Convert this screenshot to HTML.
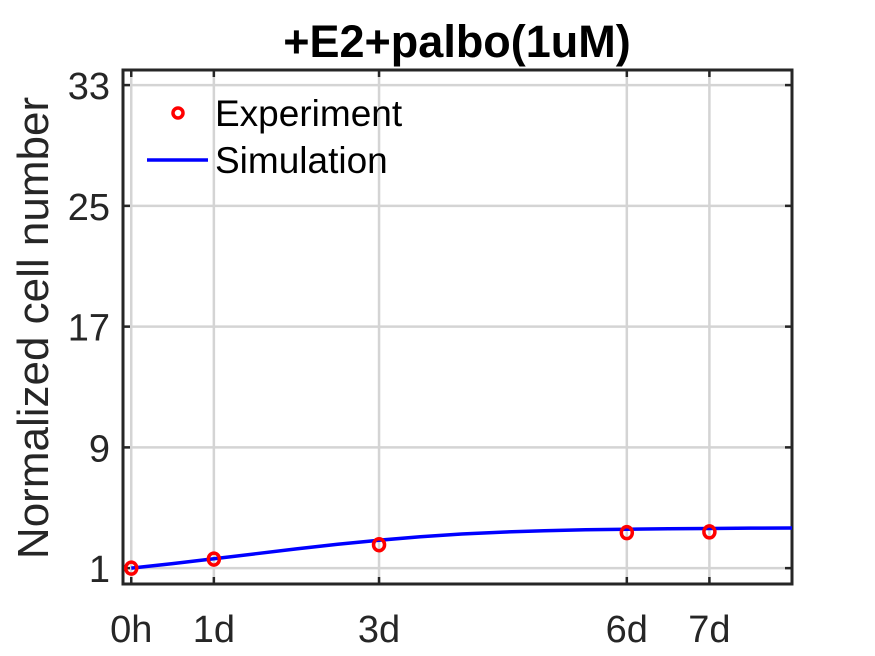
<!DOCTYPE html>
<html><head><meta charset="utf-8"><style>
body{margin:0;background:#fff;}
svg{display:block;font-family:"Liberation Sans",Arial,sans-serif;}
</style></head><body>
<svg id="c" width="875" height="656"></svg>
<script>
const xTickVals=[0,1,3,6,7];
const xTickLabels=["0h","1d","3d","6d","7d"];
const yTickVals=[1,9,17,25,33];
const expX=[0,1,3,6,7];
const expY=[1,1.6,2.55,3.35,3.4];
const simX=[0,0.5,1,1.5,2,2.5,3,3.5,4,4.5,5,5.5,6,6.5,7,7.5,8];
const simY=[1,1.3,1.62,1.95,2.28,2.58,2.85,3.08,3.26,3.39,3.48,3.54,3.58,3.61,3.63,3.65,3.66];
const L=123,R=792,T=70,B=584,x0=-0.1,x1=8,y0=-0.05,y1=34;
const sx=v=>L+(v-x0)/(x1-x0)*(R-L);
const sy=v=>B-(v-y0)/(y1-y0)*(B-T);
const svg=document.getElementById('c');
const NS='http://www.w3.org/2000/svg';
function mk(t,a,p){const e=document.createElementNS(NS,t);for(const k in a)e.setAttribute(k,a[k]);(p||svg).appendChild(e);return e;}
let e;
e=mk('rect',{x:L,y:T,width:R-L,height:B-T,fill:'#fff'});


xTickVals.forEach((v,i)=>{
 e=mk('line',{x1:sx(v),x2:sx(v),y1:T,y2:B,stroke:'#d4d4d4','stroke-width':2.5});
 
 
 mk('line',{x1:sx(v),x2:sx(v),y1:B,y2:B-7,stroke:'#262626','stroke-width':2.5});
 mk('line',{x1:sx(v),x2:sx(v),y1:T,y2:T+7,stroke:'#262626','stroke-width':2.5});
 e=mk('text',{x:sx(v),y:642,'text-anchor':'middle','font-size':38,fill:'#262626'});
 e.textContent=xTickLabels[i];
 
 
});
yTickVals.forEach(v=>{
 e=mk('line',{x1:L,x2:R,y1:sy(v),y2:sy(v),stroke:'#d4d4d4','stroke-width':2.5});
 
 
 mk('line',{x1:L,x2:L+7,y1:sy(v),y2:sy(v),stroke:'#262626','stroke-width':2.5});
 mk('line',{x1:R,x2:R-7,y1:sy(v),y2:sy(v),stroke:'#262626','stroke-width':2.5});
 e=mk('text',{x:110,y:sy(v)+14,'text-anchor':'end','font-size':38,fill:'#262626'});
 e.textContent=v;
 
 
});
e=mk('rect',{x:L,y:T,width:R-L,height:B-T,fill:'none',stroke:'#262626','stroke-width':3});


e=mk('polyline',{points:simX.map((x,i)=>sx(x)+','+sy(simY[i])).join(' '),fill:'none',stroke:'#0000ff','stroke-width':3.5});


expX.forEach((x,i)=>{
 e=mk('ellipse',{cx:sx(x),cy:sy(expY[i]),rx:5.5,ry:6,fill:'none',stroke:'#ff0000','stroke-width':3.5});
 
 
});
e=mk('text',{x:457,y:57,'text-anchor':'middle','font-size':45,'font-weight':'bold',fill:'#000'});
e.textContent='+E2+palbo(1uM)';


e=mk('text',{x:0,y:0,'text-anchor':'middle','font-size':44,fill:'#262626',transform:'translate(48,328) rotate(-90)'});
e.textContent='Normalized cell number';


const lg=mk('g',{});


mk('ellipse',{cx:178,cy:113,rx:5,ry:5,fill:'none',stroke:'#ff0000','stroke-width':3.5},lg);
e=mk('text',{x:215,y:126,'font-size':37,fill:'#000'},lg);e.textContent='Experiment';


mk('line',{x1:147,x2:208,y1:160,y2:160,stroke:'#0000ff','stroke-width':3.5},lg);
e=mk('text',{x:215,y:173,'font-size':37,fill:'#000'},lg);e.textContent='Simulation';


</script>
</body></html>
